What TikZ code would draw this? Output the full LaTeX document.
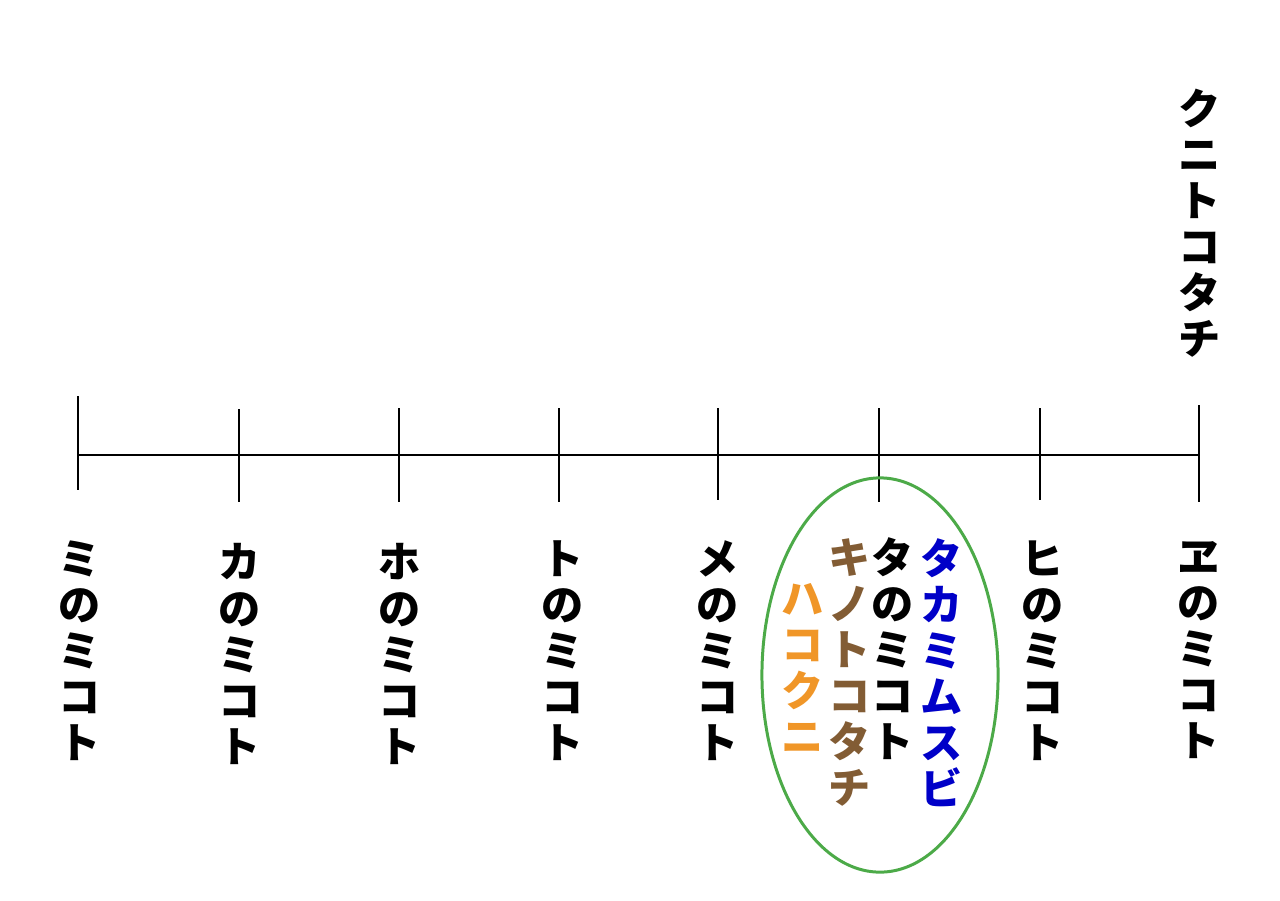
\documentclass[tikz,border=0pt]{standalone}
\usepackage{fontspec}
\newfontfamily\jp{Noto Sans CJK JP}
\usetikzlibrary{shapes.geometric}
\definecolor{groupgreen}{RGB}{76,170,72}
\definecolor{kinobrown}{RGB}{130,92,52}
\definecolor{hakoorange}{RGB}{240,150,40}
\definecolor{takablue}{RGB}{0,0,200}
\begin{document}
\begin{tikzpicture}[
                        x=0.01cm, y=-0.01cm,
                        tate/.style={anchor=north, align=center, inner sep=0pt,
                                     font=\jp\bfseries\fontsize{12}{13.1}\selectfont},
                        tick/.style={line width=0.7pt}
                    ]
                    \useasboundingbox (0,0) rectangle (1280,900);
                    % Axis
                    \coordinate (start) at (78,455);
                    \coordinate (end) at (1199,455);
                    \draw [line width=0.45pt] (start) -- (end);
                    \draw [tick] (78,396) -- (78,490);
                    \foreach \x/\t/\b in {239/409/502, 399/408/502, 559/408/502, 718/408/500,
                                          879/408/502, 1040/408/500, 1199/405/502}
                        \draw [tick] (\x,\t) -- (\x,\b);

                    % Names
                    \node [tate] (mi) at (80,540) {ミ\\の\\ミ\\コ\\ト};
                    \node [tate] (ka) at (240,543) {カ\\の\\ミ\\コ\\ト};
                    \node [tate] (ho) at (400,543) {ホ\\の\\ミ\\コ\\ト};
                    \node [tate] (to) at (563,540) {ト\\の\\ミ\\コ\\ト};
                    \node [tate] (me) at (718,540) {メ\\の\\ミ\\コ\\ト};
                    \node [tate] (ta) at (893,537) {タ\\の\\ミ\\コ\\ト};
                    \node [tate] (hi) at (1043,540) {ヒ\\の\\ミ\\コ\\ト};
                    \node [tate] (we) at (1199,541) {ヱ\\の\\ミ\\コ\\ト};
                    \node [tate] (kuni) at (1200,88) {ク\\ニ\\ト\\コ\\タ\\チ};
                    \node [tate,text=kinobrown] (kino) at (850,538) {キ\\ノ\\ト\\コ\\タ\\チ};
                    \node [tate,text=hakoorange] (hako) at (803,583) {ハ\\コ\\ク\\ニ};
                    \node [tate,text=takablue] (taka) at (942,538) {タ\\カ\\ミ\\ム\\ス\\ビ};

                    % Group
                    \node [ellipse, draw=groupgreen, line width=0.85pt, inner sep=0pt,
                           minimum width=2.36cm, minimum height=3.94cm] (group) at (880,675) {};
                \end{tikzpicture}
\end{document}
